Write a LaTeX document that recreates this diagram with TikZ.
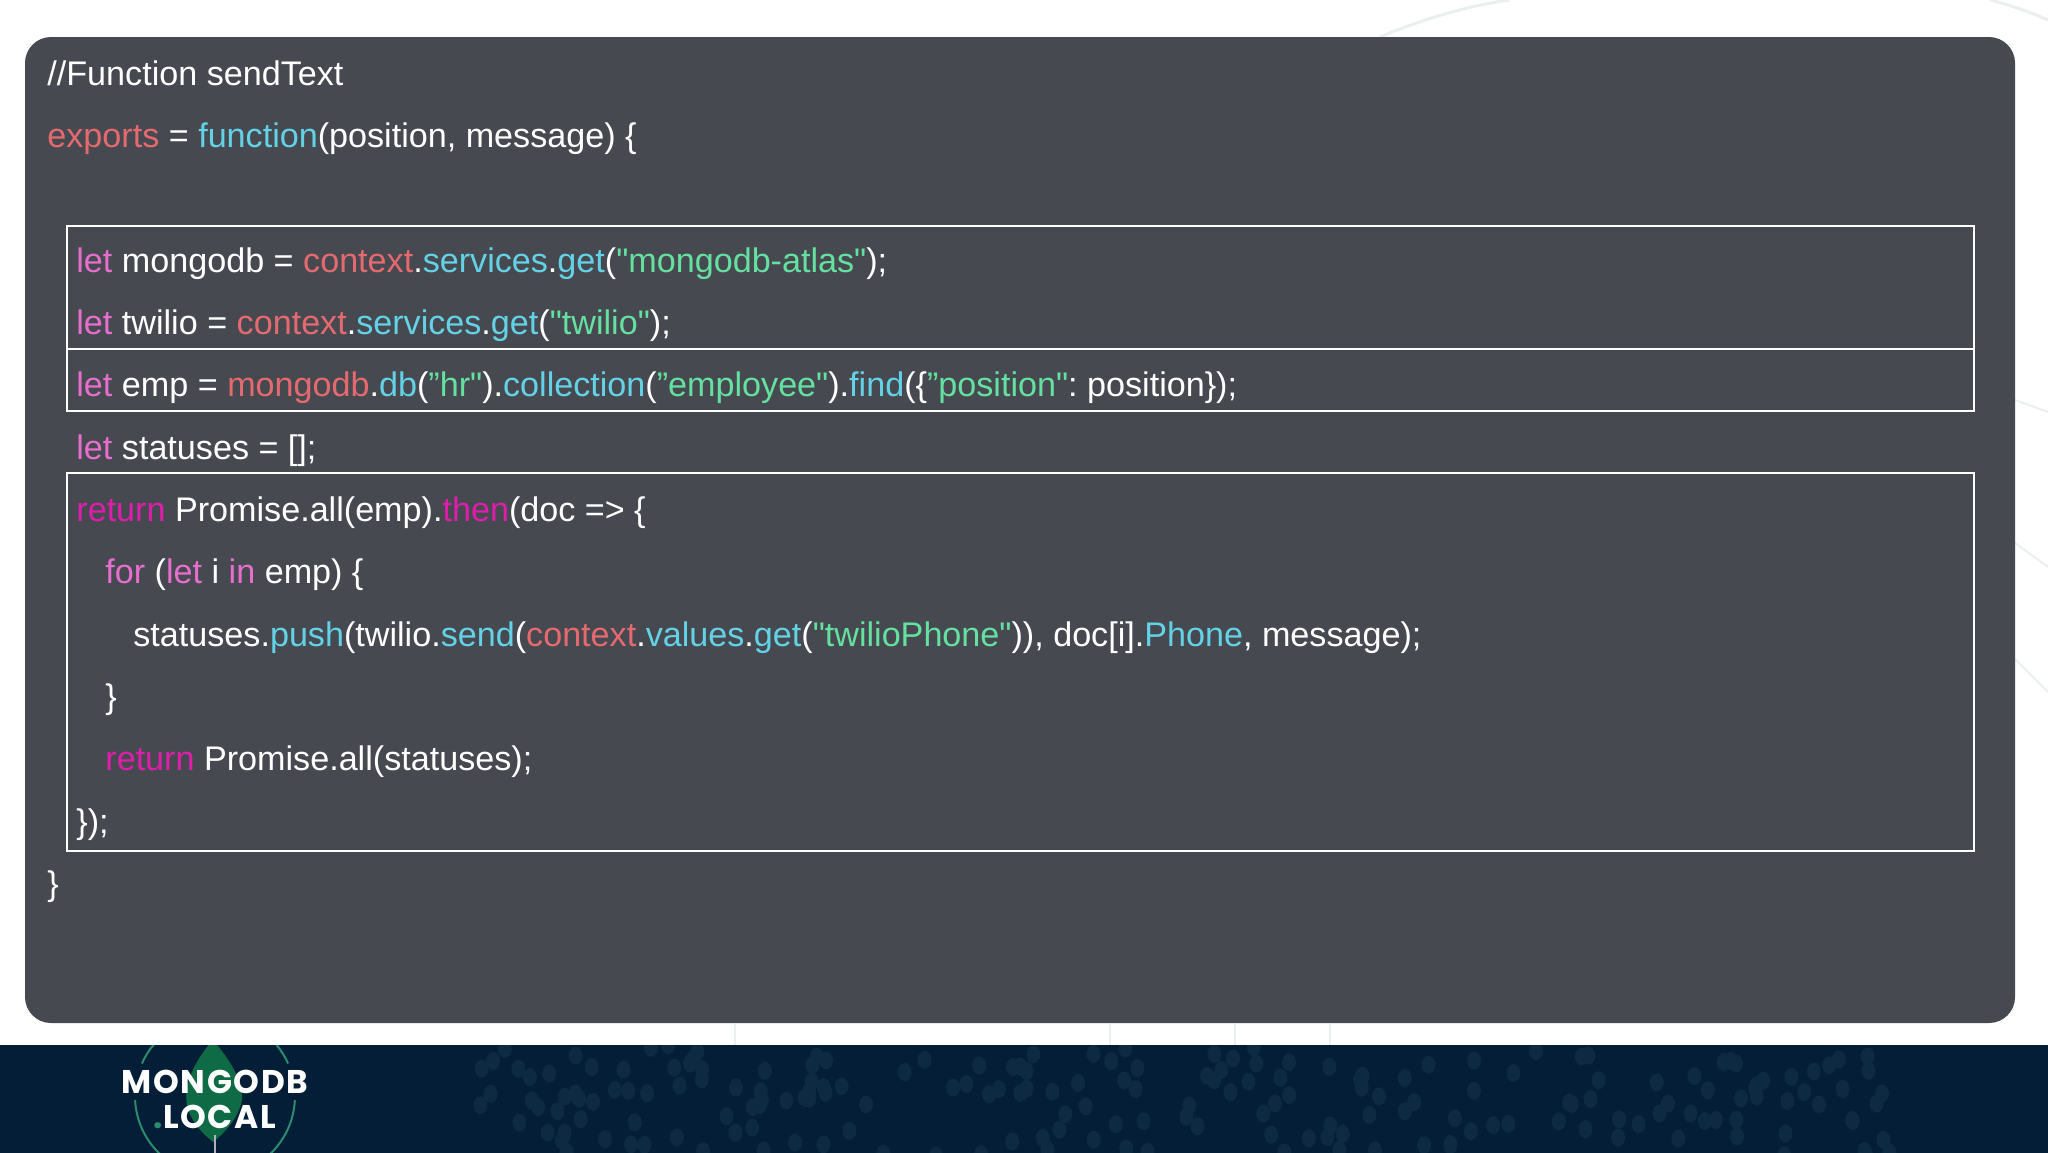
\documentclass[tikz,border=0pt]{standalone}
\usepackage{fontspec}
\newfontfamily\codefont{Liberation Sans}
\newfontfamily\logofont[LetterSpace=5]{Poppins}
\usepackage{xcolor}
\definecolor{panelgray}{RGB}{70,73,80}
\definecolor{bandnavy}{RGB}{3,30,54}
\definecolor{banddot}{RGB}{13,42,66}
\definecolor{leafgreen}{RGB}{15,107,69}
\definecolor{ringgreen}{RGB}{42,140,110}
\definecolor{arcpale}{RGB}{234,240,237}
\definecolor{codelet}{RGB}{230,110,205}
\definecolor{codered}{RGB}{228,106,112}
\definecolor{codecyan}{RGB}{100,210,230}
\definecolor{codegreen}{RGB}{100,225,160}
\definecolor{codemag}{RGB}{222,30,170}
\newcommand{\kwlet}[1]{\textcolor{codelet}{#1}}
\newcommand{\kwred}[1]{\textcolor{codered}{#1}}
\newcommand{\kwcyan}[1]{\textcolor{codecyan}{#1}}
\newcommand{\kwstr}[1]{\textcolor{codegreen}{#1}}
\newcommand{\kwret}[1]{\textcolor{codemag}{#1}}
\tikzstyle{codeline} = [anchor=base west, inner sep=0pt, text=white, font=\codefont\frenchspacing\fontsize{17.07}{20}\selectfont]
\tikzstyle{codebox} = [draw=white, line width=0.8pt]
\tikzstyle{logotext} = [inner sep=0pt, text=white, font=\logofont\bfseries\fontsize{16.4}{18}\selectfont]
\tikzstyle{logoring} = [ringgreen, line width=1pt]
\begin{document}
\begin{tikzpicture}[x=0.5pt, y=-0.5pt]
\useasboundingbox (0,0) rectangle (2048,1152);
\fill[white] (0,0) rectangle (2048,1152);

% Pale arcs behind the panel
\draw[arcpale, line width=1.5pt] (1380,37) .. controls (1420,20) and (1470,5) .. (1510,0);
\draw[arcpale, line width=1.5pt] (1990,0) .. controls (2010,5) and (2030,12) .. (2048,20);
\draw[arcpale, line width=1pt] (2015,400) -- (2048,412);
\draw[arcpale, line width=1pt] (2015,543) -- (2048,567);
\draw[arcpale, line width=1pt] (2015,659) -- (2048,692);
\draw[arcpale, line width=1pt] (735,1024) -- (735,1045);
\draw[arcpale, line width=1pt] (1110,1024) -- (1110,1045);
\draw[arcpale, line width=1pt] (1235,1024) -- (1235,1045);
\draw[arcpale, line width=1pt] (1330,1024) -- (1330,1045);

% Footer band
\fill[bandnavy] (0,1045) rectangle (2048,1156);
\begin{scope}
\clip (0,1045) rectangle (2048,1156);
\pgfmathsetseed{42}
\foreach \i in {1,...,200} {
  \pgfmathsetmacro{\dotx}{470+rnd*1420}
  \pgfmathsetmacro{\doty}{1045+rnd*111}
  \fill[banddot] (\dotx,\doty) ellipse (7 and 9);
}

% Logo
\coordinate (logoc) at (215,1096);
\draw[logoring] (logoc) ++(220:80) arc (220:204:80);
\draw[logoring] (logoc) ++(-40:80) arc (-40:-24:80);
\draw[logoring] (logoc) ++(177:80) arc (177:120:80);
\draw[logoring] (logoc) ++(3:80) arc (3:60:80);
\fill[leafgreen] (213,1040) .. controls (195,1060) and (183,1085) .. (187,1105) .. controls (192,1125) and (205,1135) .. (213,1142) .. controls (222,1135) and (238,1120) .. (242,1100) .. controls (243,1080) and (230,1060) .. (213,1040) -- cycle;
\draw[gray!60, line width=1pt] (215,1135) -- (215,1156);
\end{scope}
\node (logotop) [logotext] at (215,1082) {MONGODB};
\node (logolocal) [logotext] at (215,1117) {\textcolor{ringgreen}{.}LOCAL};

% Code panel
\fill[panelgray, rounded corners=13pt] (25,37) rectangle (2015,1023);

% Boxes
\draw[codebox] (67,226) rectangle (1974,349);
\draw[codebox] (67,349) rectangle (1974,411);
\draw[codebox] (67,473) rectangle (1974,851);

% Code lines
\node (title) [codeline] at (47,85) {//Function sendText};
\node (exports) [codeline] at (47,147) {\kwred{exports} = \kwcyan{function}(position, message) \{};
\node (mongo) [codeline] at (76,272) {\kwlet{let} mongodb = \kwred{context}.\kwcyan{services}.\kwcyan{get}(\kwstr{"mongodb-atlas"});};
\node (twilio) [codeline] at (76,334) {\kwlet{let} twilio = \kwred{context}.\kwcyan{services}.\kwcyan{get}(\kwstr{"twilio"});};
\node (emp) [codeline] at (76,396) {\kwlet{let} emp = \kwred{mongodb}.\kwcyan{db}(\kwstr{”hr"}).\kwcyan{collection}(\kwstr{”employee"}).\kwcyan{find}(\{\kwstr{”position"}: position\});};
\node (statuses) [codeline] at (76,459) {\kwlet{let} statuses = [];};
\node (promise) [codeline] at (76,521) {\kwret{return} Promise.all(emp).\kwret{then}(doc => \{};
\node (forloop) [codeline] at (105,583) {\kwlet{for} (\kwlet{let} i \kwlet{in} emp) \{};
\node (push) [codeline] at (133,646) {statuses.\kwcyan{push}(twilio.\kwcyan{send}(\kwred{context}.\kwcyan{values}.\kwcyan{get}(\kwstr{"twilioPhone"})), doc[i].\kwcyan{Phone}, message);};
\node (forend) [codeline] at (105,708) {\}};
\node (retall) [codeline] at (105,770) {\kwret{return} Promise.all(statuses);};
\node (thenend) [codeline] at (76,833) {\});};
\node (funcend) [codeline] at (47,895) {\}};
\end{tikzpicture}
\end{document}
